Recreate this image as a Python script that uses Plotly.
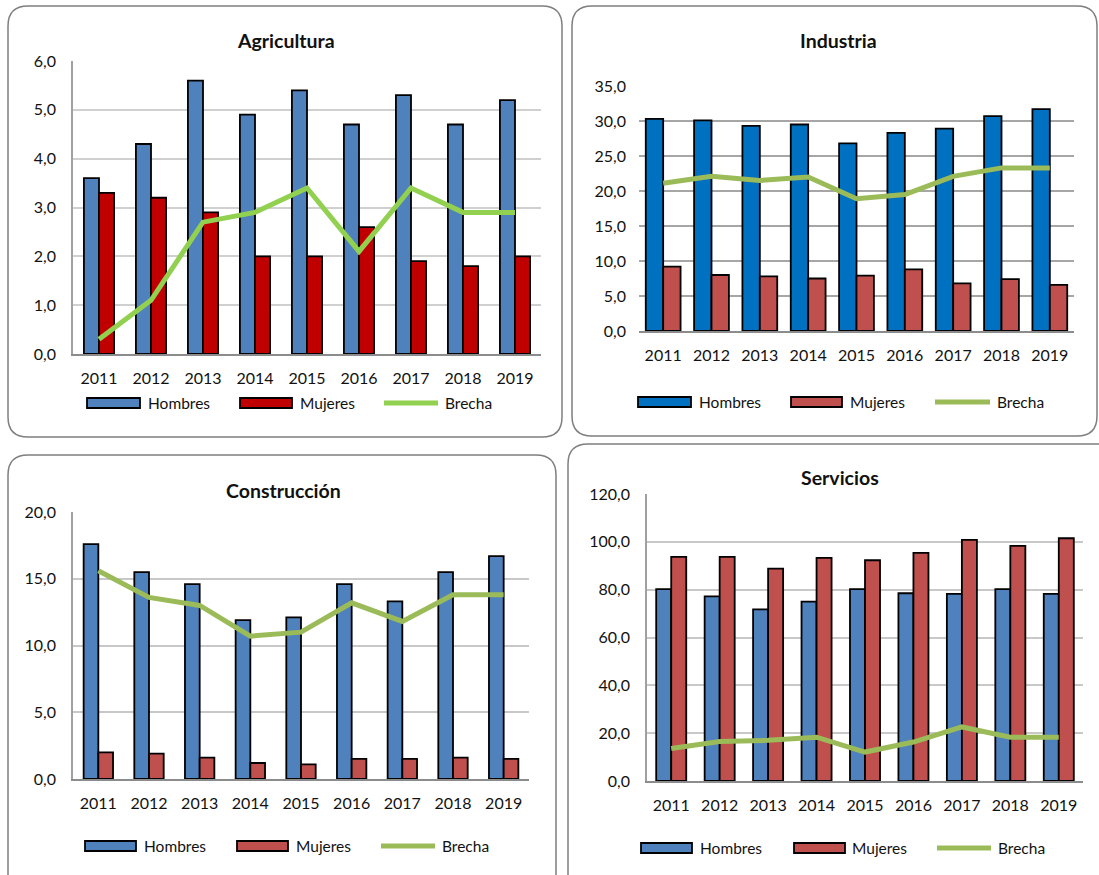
import plotly.graph_objects as go

W, H = 1099, 875

years = ["2011", "2012", "2013", "2014", "2015", "2016", "2017", "2018", "2019"]
series_names = ["Hombres", "Mujeres", "Brecha"]

agri_hombres = [3.6, 4.3, 5.6, 4.9, 5.4, 4.7, 5.3, 4.7, 5.2]
agri_mujeres = [3.3, 3.2, 2.9, 2.0, 2.0, 2.6, 1.9, 1.8, 2.0]
agri_brecha = [0.3, 1.1, 2.7, 2.9, 3.4, 2.1, 3.4, 2.9, 2.9]

ind_hombres = [30.3, 30.1, 29.3, 29.5, 26.8, 28.3, 28.9, 30.7, 31.7]
ind_mujeres = [9.2, 8.0, 7.8, 7.5, 7.9, 8.8, 6.8, 7.4, 6.6]
ind_brecha = [21.1, 22.1, 21.5, 22.0, 18.9, 19.5, 22.1, 23.3, 23.3]

cons_hombres = [17.6, 15.5, 14.6, 11.9, 12.1, 14.6, 13.3, 15.5, 16.7]
cons_mujeres = [2.0, 1.9, 1.6, 1.2, 1.1, 1.5, 1.5, 1.6, 1.5]
cons_brecha = [15.6, 13.6, 13.0, 10.7, 11.0, 13.2, 11.8, 13.8, 13.8]

serv_hombres = [80.2, 77.2, 71.8, 75.0, 80.2, 78.5, 78.2, 80.2, 78.2]
serv_mujeres = [93.7, 93.7, 88.8, 93.3, 92.3, 95.4, 100.8, 98.3, 101.5]
serv_brecha = [13.6, 16.5, 17.0, 18.3, 12.1, 16.3, 22.6, 18.3, 18.3]

FONT = "Lato"
TXT = "#111111"


def px(x):
    return x / W


def py(y):
    return 1 - y / H


panels = [
    dict(title="Agricultura", data=(agri_hombres, agri_mujeres, agri_brecha),
         ymax=6, dtick=1, colors=("#4F81BD", "#C00000", "#92D050"),
         box=(8, 6, 562, 437), plot=(73, 541, 61, 354), title_xy=(286, 41),
         bar_w=0.29, grid="#D0D0D0", yline=True,
         leg_y=403, leg=((87, 140, 146), (240, 292, 298), (384, 438, 443))),
    dict(title="Industria", data=(ind_hombres, ind_mujeres, ind_brecha),
         ymax=35, dtick=5, colors=("#0070C0", "#C0504D", "#9BBB59"),
         box=(572, 6, 1097, 436), plot=(639, 1074, 86, 331), title_xy=(838, 41),
         bar_w=0.36, grid="#A6A6A6", yline=False,
         leg_y=402, leg=((638, 691, 697), (791, 842, 848), (935, 990, 995))),
    dict(title="Construcción", data=(cons_hombres, cons_mujeres, cons_brecha),
         ymax=20, dtick=5, colors=("#4F81BD", "#C0504D", "#9BBB59"),
         box=(8, 455, 556, 900), plot=(73, 529, 512, 779), title_xy=(283, 490),
         bar_w=0.29, grid="#C8C8C8", yline=True,
         leg_y=846, leg=((85, 136, 142), (237, 288, 294), (381, 435, 440))),
    dict(title="Servicios", data=(serv_hombres, serv_mujeres, serv_brecha),
         ymax=120, dtick=20, colors=("#4F81BD", "#C0504D", "#9BBB59"),
         box=(568, 444, 1120, 900), plot=(647, 1083, 494, 781), title_xy=(840, 477),
         bar_w=0.31, grid="#C8C8C8", yline=True,
         leg_y=848, leg=((641, 692, 698), (794, 845, 850), (937, 991, 996))),
]

fig = go.Figure()
shapes = []
annotations = []
layout_axes = {}


def rounded_box(x0, y0, x1, y1, r):
    rx, ry = r / W, r / H
    X0, X1, Y0, Y1 = px(x0), px(x1), py(y0), py(y1)
    return (f"M {X0 + rx},{Y0} L {X1 - rx},{Y0} Q {X1},{Y0} {X1},{Y0 - ry} "
            f"L {X1},{Y1 + ry} Q {X1},{Y1} {X1 - rx},{Y1} "
            f"L {X0 + rx},{Y1} Q {X0},{Y1} {X0},{Y1 + ry} "
            f"L {X0},{Y0 - ry} Q {X0},{Y0} {X0 + rx},{Y0} Z")


for i, p in enumerate(panels, start=1):
    sfx = "" if i == 1 else str(i)
    xa, ya = f"x{sfx}", f"y{sfx}"
    hombres, mujeres, brecha = p["data"]
    c_h, c_m, c_b = p["colors"]
    bw = p["bar_w"]

    fig.add_trace(go.Bar(x=years, y=hombres, name="Hombres", xaxis=xa, yaxis=ya,
                         width=bw, offset=-bw, marker=dict(color=c_h, line=dict(color="#000000", width=1.8)),
                         showlegend=False))
    fig.add_trace(go.Bar(x=years, y=mujeres, name="Mujeres", xaxis=xa, yaxis=ya,
                         width=bw, offset=0, marker=dict(color=c_m, line=dict(color="#000000", width=1.8)),
                         showlegend=False))
    fig.add_trace(go.Scatter(x=years, y=brecha, name="Brecha", xaxis=xa, yaxis=ya,
                             mode="lines", line=dict(color=c_b, width=5), showlegend=False))

    x0, x1, y0, y1 = p["plot"]
    layout_axes[f"xaxis{sfx}"] = dict(
        domain=[px(x0), px(x1)], anchor=ya, type="category", automargin=False,
        showline=True, linecolor="#8C8C8C", linewidth=2, showgrid=False,
        ticks="", ticklabelstandoff=9,
        tickfont=dict(family=FONT, size=16, color=TXT), fixedrange=True)
    layout_axes[f"yaxis{sfx}"] = dict(
        domain=[py(y1), py(y0)], anchor=xa, range=[0, p["ymax"]], dtick=p["dtick"],
        tick0=0, tickformat=".1f", showgrid=True, gridcolor=p["grid"], gridwidth=2,
        zeroline=False, showline=p["yline"], linecolor="#A0A0A0", linewidth=1.5,
        ticks="", ticklabelstandoff=12, automargin=False,
        tickfont=dict(family=FONT, size=16, color=TXT), fixedrange=True)

    bx0, by0, bx1, by1 = p["box"]
    shapes.append(dict(type="path", xref="paper", yref="paper",
                       path=rounded_box(bx0, by0, bx1, by1, 20),
                       line=dict(color="#7F7F7F", width=1.5), fillcolor="rgba(0,0,0,0)",
                       layer="below"))

    tx, ty = p["title_xy"]
    annotations.append(dict(text=f"<b>{p['title']}</b>", x=px(tx), y=py(ty), xref="paper",
                            yref="paper", showarrow=False, xanchor="center", yanchor="middle",
                            font=dict(family=FONT, size=19.5, color=TXT)))

    # legend: two filled swatches and one line sample
    ly = p["leg_y"]
    for (sx0, sx1, tx0), name, col, kind in zip(p["leg"], series_names,
                                                (c_h, c_m, c_b), ("bar", "bar", "line")):
        if kind == "bar":
            shapes.append(dict(type="rect", xref="paper", yref="paper",
                               x0=px(sx0), x1=px(sx1), y0=py(ly - 5), y1=py(ly + 5),
                               fillcolor=col, line=dict(color="#000000", width=1.8)))
        else:
            shapes.append(dict(type="line", xref="paper", yref="paper",
                               x0=px(sx0), x1=px(sx1), y0=py(ly), y1=py(ly),
                               line=dict(color=col, width=5)))
        annotations.append(dict(text=name, x=px(tx0), y=py(ly), xref="paper", yref="paper",
                                showarrow=False, xanchor="left", yanchor="middle",
                                font=dict(family=FONT, size=15.5, color=TXT)))

fig.update_layout(
    width=W, height=H, margin=dict(l=0, r=0, t=0, b=0, autoexpand=False),
    paper_bgcolor="#FFFFFF", plot_bgcolor="#FFFFFF",
    separators=",.", showlegend=False, barmode="overlay",
    shapes=shapes, annotations=annotations,
    font=dict(family=FONT, color=TXT),
    **layout_axes,
)

fig.write_html("out.html")
